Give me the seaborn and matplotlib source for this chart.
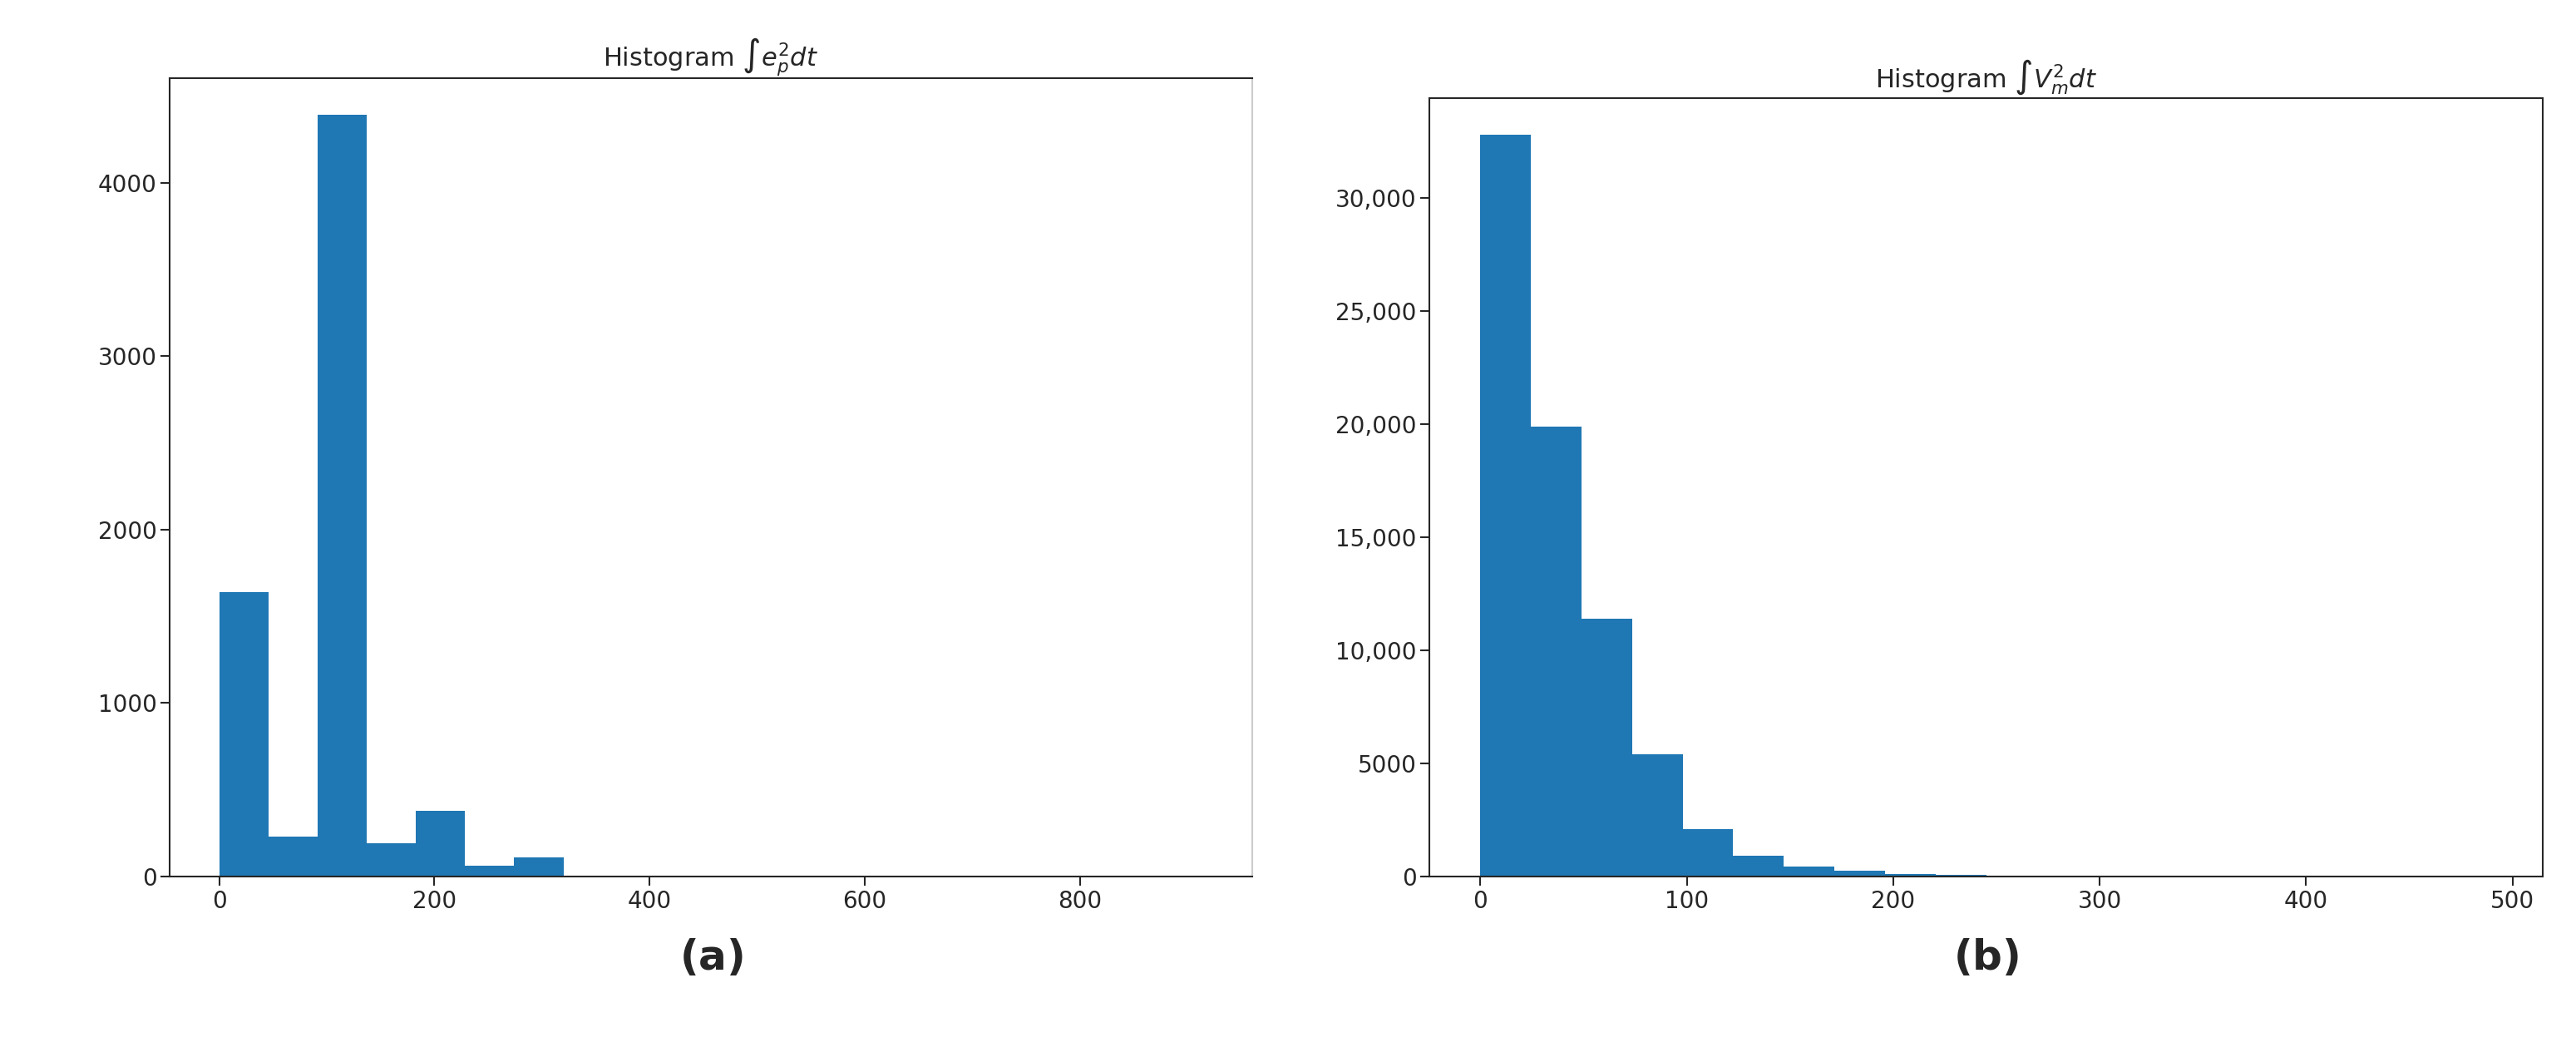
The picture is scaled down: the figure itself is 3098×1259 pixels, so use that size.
import numpy as np
import pandas as pd
import matplotlib
matplotlib.use("Agg")
import matplotlib.pyplot as plt
import seaborn as sns
from matplotlib.ticker import FuncFormatter

# Panel (a)
a_edges_max = 914
a_counts = [1640, 230, 4390, 190, 380, 60, 110, 4, 3, 2, 1, 1, 1, 0, 1, 0, 0, 0, 0, 1]
# Panel (b)
b_edges_max = 490
b_counts = [32800, 19900, 11400, 5400, 2100, 900, 450, 250, 100, 50, 30, 20, 10, 8, 5, 3, 2, 1, 1, 1]

sns.set_style("ticks")
plt.rcParams['font.family'] = ['DejaVu Sans']

def make_df(maxv, counts):
    edges = np.linspace(0, maxv, len(counts) + 1)
    centers = (edges[:-1] + edges[1:]) / 2
    return pd.DataFrame({"x": centers, "w": counts}), edges

fig = plt.figure(figsize=(30.98, 12.59), dpi=100)
ax1 = fig.add_axes([0.066, 0.163, 0.420, 0.762])
ax2 = fig.add_axes([0.555, 0.163, 0.432, 0.743])

for ax, maxv, counts in [(ax1, a_edges_max, a_counts), (ax2, b_edges_max, b_counts)]:
    df, edges = make_df(maxv, counts)
    sns.histplot(data=df, x="x", weights="w", binwidth=maxv / len(counts),
                 binrange=(0, maxv), ax=ax,
                 color="#1f77b4", alpha=1, edgecolor="none", linewidth=0)
    ax.set_xlabel("")
    ax.set_ylabel("")
    ax.tick_params(labelsize=20, width=1.5, length=8)
    for s in ax.spines.values():
        s.set_linewidth(1.5)
    ax.set_xlim(-0.05 * maxv, 1.05 * maxv)

ax1.set_ylim(0, 4600)
ax1.set_yticks([0, 1000, 2000, 3000, 4000])
ax1.set_xticks([0, 200, 400, 600, 800])
ax1.spines['right'].set_color("#cccccc")
ax2.set_ylim(0, 34400)
ax2.set_yticks([0, 5000, 10000, 15000, 20000, 25000, 30000])
ax2.yaxis.set_major_formatter(FuncFormatter(lambda v, p: f"{int(v):,}" if v >= 10000 else f"{int(v)}"))
ax2.set_xticks([0, 100, 200, 300, 400, 500])

ax1.set_title(r"Histogram $\int e_p^2 dt$", fontsize=22, pad=10)
ax2.set_title(r"Histogram $\int V_m^2 dt$", fontsize=22, pad=10)

fig.text(0.276, 0.085, r"$\mathbf{(a)}$", fontsize=36, ha="center", va="center", family="serif")
fig.text(0.771, 0.085, r"$\mathbf{(b)}$", fontsize=36, ha="center", va="center", family="serif")

fig.savefig("out.png", dpi=100)
